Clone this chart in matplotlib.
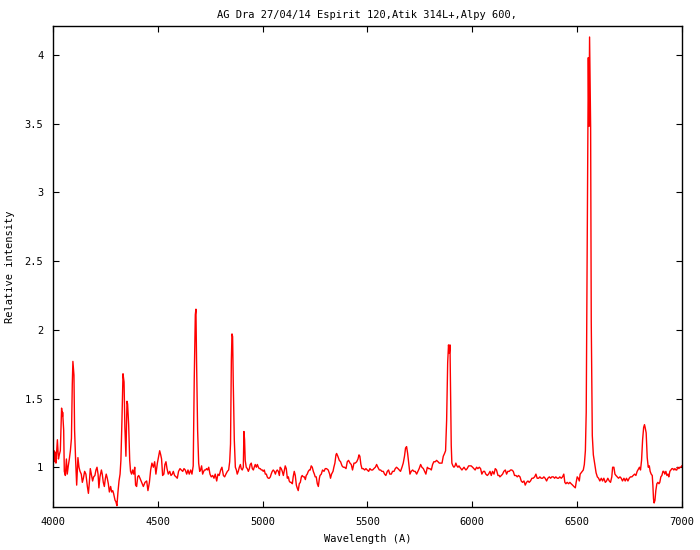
import matplotlib
matplotlib.use("Agg")
import matplotlib.pyplot as plt
from matplotlib.ticker import FormatStrFormatter, MultipleLocator

# Spectrum (wavelength in A, relative intensity)
wavelength = [
    4000, 4002, 4005, 4008, 4011, 4014, 4018, 4021, 4026, 4030, 4035, 4041, 4045, 4046,
    4051, 4054, 4059, 4064, 4068, 4073, 4078, 4083, 4088, 4092, 4095, 4100, 4103, 4108,
    4113, 4119, 4124, 4129, 4135, 4140, 4145, 4151, 4157, 4164, 4169, 4173, 4178, 4183,
    4189, 4194, 4200, 4205, 4210, 4215, 4219, 4224, 4231, 4235, 4240, 4245, 4250, 4254,
    4259, 4264, 4269, 4275, 4280, 4285, 4289, 4296, 4300, 4305, 4310, 4315, 4320, 4324,
    4329, 4334, 4339, 4343, 4348, 4353, 4356, 4361, 4366, 4370, 4375, 4380, 4385, 4390,
    4394, 4399, 4404, 4409,
    4415, 4423, 4431, 4439, 4447, 4453, 4460, 4466, 4472, 4479, 4485, 4491, 4498, 4504,
    4509, 4514, 4518, 4523, 4529, 4534, 4539, 4544, 4550, 4557, 4563, 4569, 4574, 4580,
    4587, 4593, 4599, 4606, 4612, 4619, 4625, 4631, 4638, 4644, 4650, 4657, 4663, 4669,
    4674, 4679, 4682, 4685, 4690, 4695, 4700, 4704, 4709, 4714, 4719, 4723, 4728, 4733,
    4738, 4743, 4749, 4755, 4762, 4768, 4774, 4781, 4787, 4793, 4800, 4806, 4813, 4819,
    4825, 4832, 4838, 4843,
    4847, 4851, 4854, 4857, 4860, 4865, 4870, 4875, 4879, 4884, 4889, 4894, 4898, 4903,
    4908, 4911, 4914, 4917, 4922, 4927, 4932, 4937, 4941, 4946, 4951, 4956, 4960, 4965,
    4970, 4975, 4980, 4984, 4989, 4994, 4999, 5003, 5008, 5013, 5018, 5022, 5027, 5032,
    5037, 5041, 5046, 5051, 5056, 5061, 5065, 5070, 5075, 5080, 5084, 5089, 5094, 5099,
    5104, 5108, 5113, 5118, 5123, 5127, 5132, 5137, 5142, 5146, 5151, 5156, 5161, 5165,
    5170, 5175, 5180, 5185, 5189, 5194, 5199, 5204, 5208, 5213, 5218, 5223, 5227, 5232,
    5237, 5242, 5247, 5251, 5256, 5261, 5266, 5271,
    5274, 5280, 5286, 5293, 5299, 5305, 5313, 5320, 5324, 5329, 5336, 5340, 5345, 5350,
    5353, 5359, 5366, 5372, 5379, 5385, 5391, 5398, 5404, 5410, 5417, 5423, 5429, 5436,
    5442, 5449, 5455, 5460, 5464, 5469, 5474, 5480, 5487, 5493, 5499, 5506, 5512, 5518,
    5525, 5531, 5538, 5544, 5550, 5557, 5563, 5569, 5576, 5582, 5588, 5595, 5601, 5607,
    5614, 5620, 5627, 5633, 5639, 5646, 5652, 5658, 5665, 5671, 5677, 5682, 5687, 5692,
    5697, 5701,
    5703, 5709, 5716, 5722, 5728, 5735, 5741, 5747, 5754, 5760, 5767, 5773, 5779, 5786,
    5792, 5798, 5805, 5811, 5817, 5824, 5830, 5837, 5843, 5849, 5856, 5862, 5868, 5873,
    5878, 5883, 5887, 5891, 5894, 5897, 5900, 5903, 5908, 5913, 5918, 5922, 5927, 5932,
    5937, 5941, 5946, 5951, 5956, 5961, 5965, 5970, 5976, 5983, 5989, 5995, 6002, 6008,
    6014, 6021, 6027, 6034, 6040, 6046, 6053, 6059, 6065, 6072, 6078, 6085, 6091, 6097,
    6104, 6110, 6116, 6123, 6129,
    6132, 6139, 6145, 6151, 6158, 6164, 6170, 6177, 6183, 6189, 6196, 6202, 6209, 6215,
    6221, 6228, 6234, 6240, 6247, 6253, 6259, 6266, 6272, 6278, 6285, 6291, 6298, 6304,
    6310, 6317, 6323, 6329, 6336, 6342, 6348, 6355, 6361, 6368, 6374, 6380, 6387, 6393,
    6399, 6406, 6412, 6418, 6425, 6431, 6437, 6442, 6447, 6453, 6460, 6466, 6472, 6479,
    6485, 6492, 6496, 6501, 6506, 6511, 6515, 6520, 6525, 6530, 6535,
    6540, 6544, 6549, 6554, 6557, 6560, 6565, 6568, 6573, 6578, 6584, 6591,
    6597, 6603, 6609, 6616, 6622, 6628, 6635, 6641, 6647, 6654, 6660, 6666, 6670, 6676,
    6681, 6686, 6692, 6698, 6705, 6711, 6717, 6724, 6730, 6736, 6743, 6749, 6755, 6762,
    6768, 6775, 6781, 6787, 6794, 6798, 6803, 6808, 6813, 6818, 6822, 6825, 6830, 6835,
    6840, 6845, 6849, 6854, 6859, 6862, 6865, 6868, 6872, 6876, 6881, 6886, 6891, 6895,
    6900, 6905, 6910, 6914, 6919, 6924, 6929, 6934, 6938, 6943, 6948, 6953, 6957, 6962,
    6967, 6972, 6976, 6981, 6986, 6991, 6996, 7000,
]
intensity = [
    1.10, 1.07, 1.12, 1.04, 1.11, 1.03, 1.13, 1.20, 1.06, 1.09, 1.12, 1.43, 1.37, 1.40,
    1.27, 0.97, 0.94, 1.06, 0.95, 1.01, 1.06, 1.12, 1.21, 1.60, 1.77, 1.67, 1.27, 1.05,
    0.87, 1.07, 1.00, 0.97, 0.95, 0.89, 0.92, 0.97, 0.95, 0.86, 0.81, 0.88, 0.99, 0.95,
    0.90, 0.93, 0.94, 0.98, 1.00, 0.95, 0.85, 0.93, 0.98, 0.95, 0.89, 0.86, 0.92, 0.95,
    0.92, 0.88, 0.82, 0.86, 0.82, 0.83, 0.81, 0.76, 0.75, 0.72, 0.82, 0.90, 0.95, 1.05,
    1.34, 1.68, 1.62, 1.29, 1.08, 1.48, 1.46, 1.31, 1.05, 0.97, 0.95, 0.98, 0.95, 1.00,
    0.87, 0.86, 0.93, 0.94,
    0.92, 0.89, 0.86, 0.89, 0.90, 0.83, 0.89, 0.98, 1.03, 1.00, 1.04, 0.95, 1.03, 1.08,
    1.12, 1.09, 1.06, 0.94, 0.95, 1.02, 1.04, 0.99, 0.95, 0.97, 0.94, 0.95, 0.97, 0.94,
    0.93, 0.92, 0.97, 0.99, 0.98, 0.97, 0.99, 0.98, 0.95, 0.98, 0.95, 0.98, 0.95, 1.01,
    1.65, 2.11, 2.15, 1.77, 1.27, 1.03, 0.97, 0.98, 1.01, 0.95, 0.97, 0.98, 0.98, 0.99,
    0.98, 1.00, 0.95, 0.93, 0.94, 0.92, 0.95, 0.90, 0.95, 0.94, 0.98, 1.00, 0.94, 0.93,
    0.95, 0.97, 0.98, 1.04,
    1.17, 1.78, 1.97, 1.95, 1.62, 1.20, 1.00, 0.98, 0.95, 0.97, 1.00, 1.02, 0.99, 0.98,
    1.00, 1.26, 1.20, 1.05, 1.00, 0.99, 0.97, 0.99, 1.02, 1.03, 0.99, 0.98, 1.00, 1.02,
    1.00, 1.02, 1.00, 0.99, 0.99, 0.98, 0.98, 0.97, 0.98, 0.95, 0.95, 0.93, 0.92, 0.92,
    0.93, 0.95, 0.97, 0.98, 0.97, 0.95, 0.97, 0.98, 0.97, 0.94, 1.00, 0.99, 0.97, 0.94,
    0.98, 1.01, 0.99, 0.92, 0.93, 0.90, 0.89, 0.89, 0.88, 0.93, 0.97, 0.94, 0.87, 0.85,
    0.83, 0.88, 0.89, 0.93, 0.94, 0.93, 0.93, 0.91, 0.94, 0.95, 0.97, 0.98, 0.98, 1.01,
    1.00, 0.97, 0.95, 0.93, 0.93, 0.88, 0.86, 0.92,
    0.94, 0.95, 0.98, 0.97, 0.99, 0.99, 0.98, 0.95, 0.92, 0.95, 0.97, 1.00, 1.03, 1.09,
    1.10, 1.08, 1.05, 1.04, 1.01, 1.00, 1.00, 0.99, 1.04, 1.05, 1.03, 1.02, 0.98, 1.03,
    1.03, 1.04, 1.06, 1.09, 1.08, 1.02, 0.99, 0.99, 0.98, 0.99, 0.98, 0.97, 0.99, 0.98,
    0.98, 0.99, 1.00, 1.02, 1.00, 0.98, 0.98, 0.97, 0.97, 0.95, 0.94, 0.97, 0.98, 0.95,
    0.95, 0.97, 0.97, 0.99, 1.00, 0.99, 0.98, 0.97, 1.00, 1.03, 1.08, 1.14, 1.15, 1.10,
    1.03, 0.98,
    0.95, 0.97, 0.98, 0.97, 0.97, 0.95, 0.97, 0.99, 1.02, 1.00, 0.99, 0.97, 0.95, 1.00,
    0.99, 0.99, 0.98, 1.02, 1.04, 1.04, 1.05, 1.04, 1.03, 1.03, 1.03, 1.08, 1.10, 1.12,
    1.34, 1.76, 1.89, 1.83, 1.89, 1.50, 1.16, 1.03, 1.01, 1.00, 1.01, 1.03, 1.01, 1.00,
    1.01, 1.00, 0.99, 0.98, 0.99, 1.00, 0.99, 0.98, 0.99, 1.01, 1.01, 1.01, 1.00, 0.99,
    0.98, 1.00, 0.99, 1.00, 0.99, 0.95, 0.97, 0.97, 0.95, 0.94, 0.95, 0.97, 0.94, 0.97,
    0.95, 0.99, 0.98, 0.94, 0.94,
    0.93, 0.94, 0.95, 0.97, 0.98, 0.95, 0.97, 0.97, 0.98, 0.98, 0.97, 0.94, 0.94, 0.93,
    0.94, 0.93, 0.90, 0.89, 0.90, 0.87, 0.89, 0.90, 0.89, 0.90, 0.92, 0.92, 0.93, 0.95,
    0.92, 0.92, 0.93, 0.92, 0.92, 0.93, 0.92, 0.90, 0.92, 0.93, 0.92, 0.93, 0.93, 0.92,
    0.93, 0.92, 0.92, 0.93, 0.92, 0.93, 0.95, 0.89, 0.88, 0.89, 0.88, 0.89, 0.88, 0.87,
    0.86, 0.85, 0.89, 0.93, 0.92, 0.90, 0.95, 0.96, 0.97, 0.98, 1.02,
    1.12, 1.40, 2.70, 3.98, 3.48, 4.13, 3.48, 2.06, 1.23, 1.09, 1.03, 0.96,
    0.93, 0.92, 0.90, 0.92, 0.90, 0.92, 0.89, 0.90, 0.92, 0.90, 0.89, 0.93, 1.00, 1.00,
    0.95, 0.94, 0.93, 0.92, 0.93, 0.92, 0.90, 0.92, 0.90, 0.92, 0.90, 0.92, 0.93, 0.93,
    0.94, 0.95, 0.94, 0.97, 0.99, 1.00, 0.98, 1.05, 1.20, 1.29, 1.31, 1.29, 1.25, 1.07,
    1.00, 1.01, 0.97, 0.95, 0.94, 0.87, 0.77, 0.74, 0.76, 0.83, 0.88, 0.89, 0.88, 0.89,
    0.93, 0.94, 0.97, 0.97, 0.95, 0.97, 0.94, 0.95, 0.93, 0.97, 0.98, 0.99, 0.99, 0.98,
    0.99, 0.98, 0.98, 1.00, 0.99, 1.00, 1.00, 1.01,
]

plt.rcParams['font.family'] = ['DejaVu Sans Mono']
plt.rcParams['font.size'] = 7.5

fig = plt.figure(figsize=(7, 5.5), dpi=100)
ax = fig.add_axes([0.0757, 0.078, 0.8983, 0.8747])

ax.plot(wavelength, intensity, color='#ff0000', linewidth=1.0)

ax.set_xlim(4000, 7000)
ax.set_ylim(0.71, 4.21)
ax.xaxis.set_major_locator(MultipleLocator(500))
ax.yaxis.set_major_locator(MultipleLocator(0.5))
ax.yaxis.set_major_formatter(FormatStrFormatter('%g'))
ax.tick_params(direction='in', length=4.5, width=0.8, top=True, right=True,
               pad=7, colors='black')
for s in ax.spines.values():
    s.set_linewidth(1.0)

ax.set_title('AG Dra 27/04/14 Espirit 120,Atik 314L+,Alpy 600,', fontsize=7.5, pad=6)
ax.set_xlabel('Wavelength (A)', labelpad=5)
ax.set_ylabel('Relative intensity', labelpad=7)

plt.savefig('out.png', dpi=100)
